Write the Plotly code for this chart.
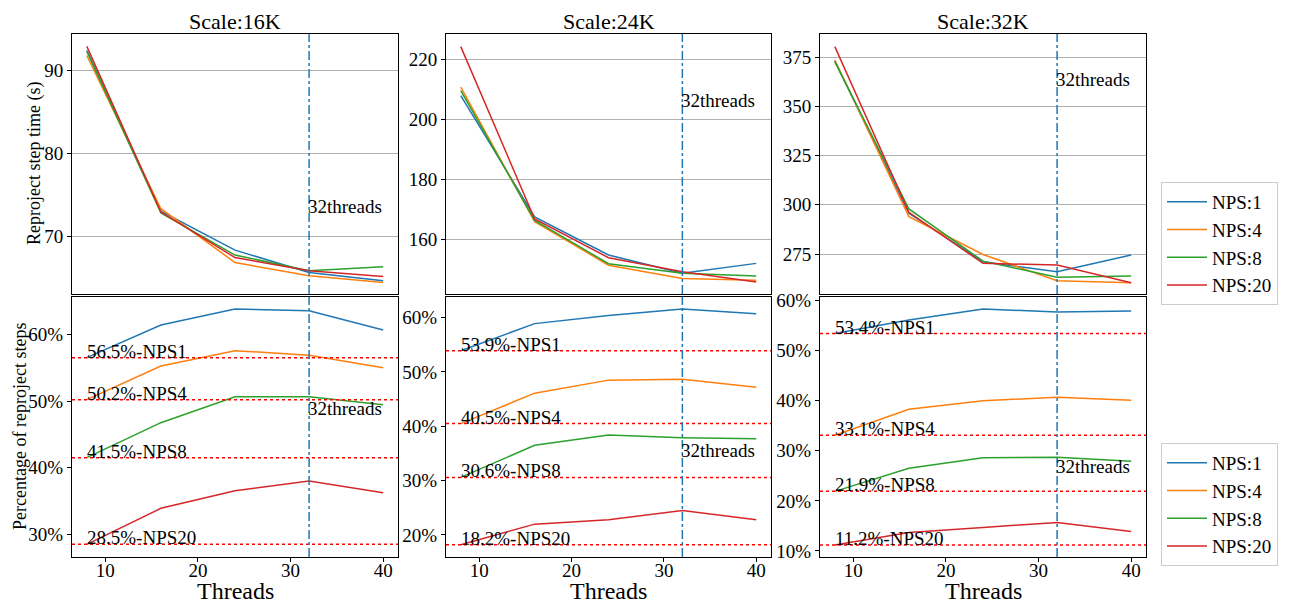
import plotly.graph_objects as go

threads = [8, 16, 24, 32, 40]
series_names = ["NPS:1", "NPS:4", "NPS:8", "NPS:20"]
colors = ["#1f77b4", "#ff7f0e", "#2ca02c", "#d62728"]
scales = ["Scale:16K", "Scale:24K", "Scale:32K"]

# Reproject step time (s)
time_16k = [
    [92.4, 73.0, 68.3, 65.6, 64.6],
    [91.8, 73.3, 66.8, 65.2, 64.4],
    [92.3, 72.8, 67.7, 65.8, 66.3],
    [92.9, 72.9, 67.4, 65.8, 65.1],
]
time_24k = [
    [207.9, 167.5, 154.8, 148.7, 152.0],
    [210.7, 165.9, 151.4, 147.0, 146.4],
    [209.5, 166.3, 151.9, 148.7, 147.8],
    [224.2, 166.8, 153.9, 149.2, 145.8],
]
time_32k = [
    [373.0, 295.7, 271.1, 266.0, 274.5],
    [373.6, 294.0, 274.8, 261.4, 260.4],
    [372.8, 297.9, 271.4, 263.2, 263.8],
    [380.4, 296.2, 270.3, 269.4, 260.4],
]
# Percentage of reproject steps (%)
pct_16k = [
    [56.5, 61.4, 63.8, 63.55, 60.65],
    [50.2, 55.25, 57.55, 56.85, 55.0],
    [41.5, 46.75, 50.65, 50.65, 49.45],
    [28.5, 33.9, 36.55, 38.0, 36.25],
]
pct_24k = [
    [53.9, 58.9, 60.4, 61.6, 60.7],
    [40.5, 46.1, 48.5, 48.65, 47.2],
    [30.6, 36.5, 38.4, 37.9, 37.7],
    [18.2, 22.0, 22.8, 24.5, 22.8],
]
pct_32k = [
    [53.4, 56.1, 58.3, 57.7, 57.9],
    [33.1, 38.3, 40.0, 40.7, 40.1],
    [21.9, 26.5, 28.6, 28.7, 27.9],
    [11.2, 13.7, 14.7, 15.7, 13.9],
]
baseline_labels = ["NPS1", "NPS4", "NPS8", "NPS20"]

time_data = [time_16k, time_24k, time_32k]
pct_data = [pct_16k, pct_24k, pct_32k]

time_ranges = [[63.0, 94.4], [141.8, 228.4], [254.7, 386.8]]
time_dticks = [10, 20, 25]
pct_ranges = [[26.6, 65.6], [15.95, 63.8], [8.8, 60.7]]
thread_text_time = [73.56, 206.4, 363.5]
thread_text_pct = [48.9, 35.46, 26.85]

FONT = "Liberation Serif, Times New Roman, serif"
OFF = 8  # default page body margin
W, H = 1289 - OFF, 603 - OFF


def px(x):
    return (x - OFF) / W


def py(y):
    return 1 - (y - OFF) / H


xdom = [[px(72), px(398)], [px(446), px(771)], [px(820), px(1146)]]
ytop = [py(294), py(34)]
ybot = [py(557), py(297)]

fig = go.Figure()
shapes = []
annotations = []

for c in range(3):
    nt, nb = 2 * c + 1, 2 * c + 2
    xa_top = "x" if nt == 1 else f"x{nt}"
    ya_top = "y" if nt == 1 else f"y{nt}"
    xa_bot = f"x{nb}"
    ya_bot = f"y{nb}"
    for i in range(4):
        fig.add_trace(go.Scatter(
            x=threads, y=time_data[c][i], mode="lines", name=series_names[i],
            line=dict(color=colors[i], width=1.5), xaxis=xa_top, yaxis=ya_top,
            showlegend=(c == 2), legend="legend"))
        fig.add_trace(go.Scatter(
            x=threads, y=pct_data[c][i], mode="lines", name=series_names[i],
            line=dict(color=colors[i], width=1.5), xaxis=xa_bot, yaxis=ya_bot,
            showlegend=(c == 2), legend="legend2"))
        base = pct_data[c][i][0]
        shapes.append(dict(type="line", xref=f"{xa_bot} domain", yref=ya_bot,
                           x0=0, x1=1, y0=base, y1=base,
                           line=dict(color="#ff0000", width=1.5, dash="dot")))
        annotations.append(dict(x=threads[0], y=base, xref=xa_bot, yref=ya_bot,
                                text=f"{base}%-{baseline_labels[i]}", showarrow=False,
                                xanchor="left", yanchor="bottom", yshift=-6, xshift=-2,
                                font=dict(family=FONT, size=19, color="black")))
    for xa, ya, ty in [(xa_top, ya_top, thread_text_time[c]), (xa_bot, ya_bot, thread_text_pct[c])]:
        shapes.append(dict(type="line", xref=xa, yref=f"{ya} domain",
                           x0=32, x1=32, y0=0, y1=1,
                           line=dict(color="#1f77b4", width=1.5, dash="dashdot")))
        annotations.append(dict(x=32, y=ty, xref=xa, yref=ya, text="32threads",
                                showarrow=False, xanchor="left", yanchor="middle", xshift=-3,
                                font=dict(family=FONT, size=19, color="black")))
    xc = (xdom[c][0] + xdom[c][1]) / 2
    annotations.append(dict(x=xc, y=py(21), xref="paper", yref="paper", text=scales[c],
                            showarrow=False, xanchor="center", yanchor="middle",
                            font=dict(family=FONT, size=22, color="black")))
    annotations.append(dict(x=xc, y=0, xref="paper", yref="paper", text="Threads",
                            showarrow=False, xanchor="center", yanchor="bottom", yshift=-3,
                            font=dict(family=FONT, size=24, color="black")))

annotations.append(dict(x=px(35), y=py(164), xref="paper", yref="paper",
                        text="Reproject step time (s)", textangle=-90, showarrow=False,
                        xanchor="center", yanchor="middle",
                        font=dict(family=FONT, size=18, color="black")))
annotations.append(dict(x=0, y=py(427), xref="paper", yref="paper",
                        text="Percentage of reproject steps", textangle=-90, showarrow=False,
                        xanchor="left", yanchor="middle", xshift=0,
                        font=dict(family=FONT, size=18, color="black")))

axis_common = dict(showline=True, linecolor="black", linewidth=1, mirror=True,
                   ticklen=4, tickcolor="black", zeroline=False, automargin=False,
                   tickfont=dict(family=FONT, size=19, color="black"))
layout = dict()
for c in range(3):
    nt, nb = 2 * c + 1, 2 * c + 2
    kx_t = "xaxis" if nt == 1 else f"xaxis{nt}"
    ky_t = "yaxis" if nt == 1 else f"yaxis{nt}"
    xa_t_name = "x" if nt == 1 else f"x{nt}"
    ya_t_name = "y" if nt == 1 else f"y{nt}"
    layout[kx_t] = dict(domain=xdom[c], range=[6.4, 41.6], anchor=ya_t_name,
                        showticklabels=False, showgrid=False, ticks="", **axis_common)
    layout[ky_t] = dict(domain=ytop, range=time_ranges[c], anchor=xa_t_name, dtick=time_dticks[c],
                        showgrid=True, gridcolor="#b0b0b0", gridwidth=1, ticks="outside",
                        **axis_common)
    layout[f"xaxis{nb}"] = dict(domain=xdom[c], range=[6.4, 41.6], anchor=f"y{nb}", dtick=10,
                                tick0=0, showgrid=False, ticks="outside",
                                ticklabelstandoff=-8, **axis_common)
    layout[f"yaxis{nb}"] = dict(domain=ybot, range=pct_ranges[c], anchor=f"x{nb}", dtick=10,
                                tick0=0, ticksuffix="%", showgrid=False, ticks="outside",
                                **axis_common)

legend_common = dict(xanchor="left", yanchor="top", bordercolor="#cccccc", borderwidth=1,
                     bgcolor="white", font=dict(family=FONT, size=19, color="black"),
                     itemwidth=40, tracegroupgap=0)

fig.update_layout(
    template="none",
    width=W, height=H,
    margin=dict(l=0, r=0, t=0, b=0),
    plot_bgcolor="white", paper_bgcolor="white",
    font=dict(family=FONT, size=19, color="black"),
    shapes=shapes, annotations=annotations,
    legend=dict(x=px(1161), y=py(182), **legend_common),
    legend2=dict(x=px(1161), y=py(443), **legend_common),
    **layout,
)

fig.write_html("out.html")
